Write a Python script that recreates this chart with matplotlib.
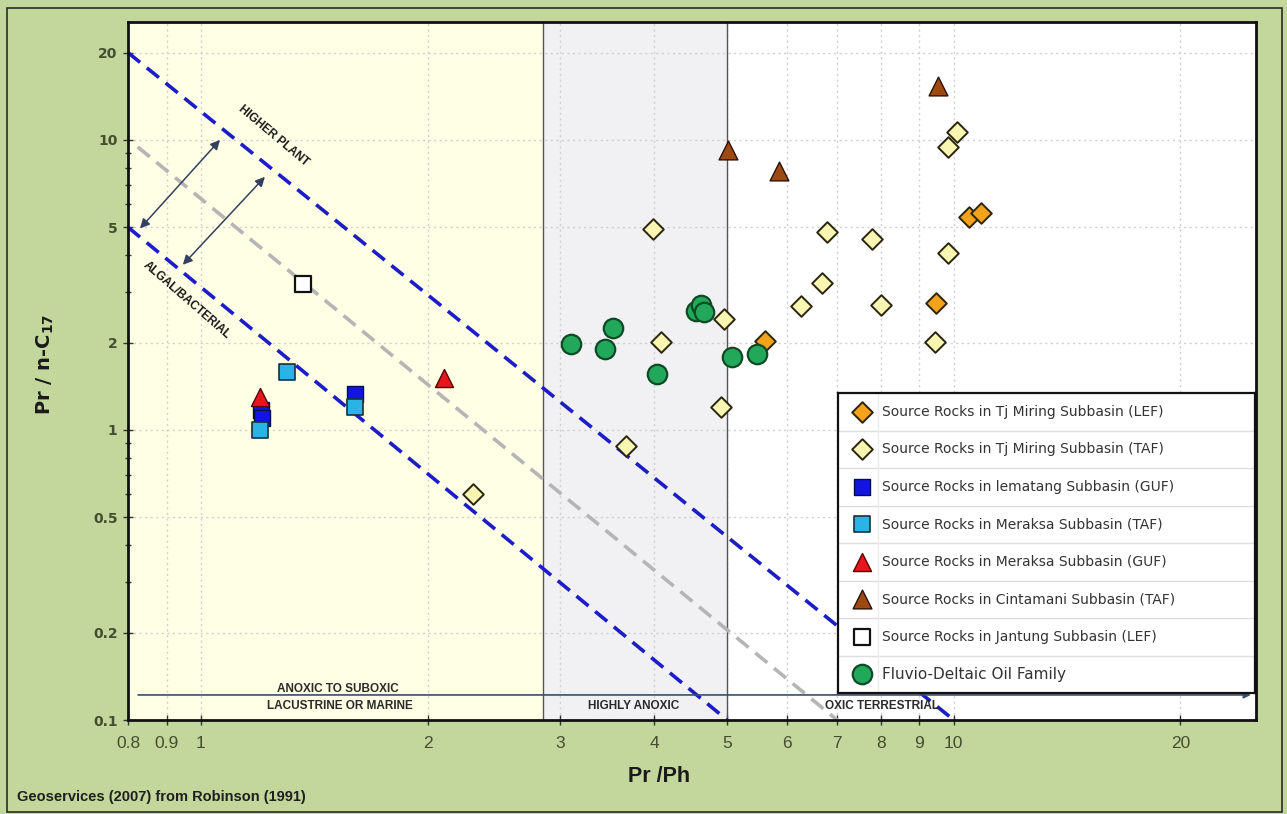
import matplotlib
matplotlib.use("Agg")
import matplotlib.pyplot as plt
from matplotlib.ticker import FixedLocator, FixedFormatter, NullFormatter

# ---- data -------------------------------------------------------------
tjm_lef_x = [10.47, 10.86, 9.46, 5.62]
tjm_lef_y = [5.43, 5.60, 2.74, 2.03]

tjm_taf_x = [10.09, 9.82, 3.99, 6.78, 7.78, 9.82, 6.68, 6.26, 8.00, 4.95,
             4.09, 9.44, 4.90, 3.67, 2.30]
tjm_taf_y = [10.66, 9.46, 4.93, 4.82, 4.56, 4.08, 3.21, 2.68, 2.70, 2.41,
             2.01, 2.01, 1.20, 0.88, 0.60]

lem_guf_x = [1.20, 1.205, 1.60]
lem_guf_y = [1.17, 1.10, 1.33]

mer_taf_x = [1.30, 1.198, 1.60]
mer_taf_y = [1.585, 1.00, 1.20]

mer_guf_x = [1.198, 2.10]
mer_guf_y = [1.30, 1.51]

cin_taf_x = [9.52, 5.02, 5.85]
cin_taf_y = [15.35, 9.24, 7.82]

jan_lef_x = [1.366]
jan_lef_y = [3.19]

oil_x = [3.10, 3.44, 3.53, 4.03, 4.54, 4.61, 4.66, 5.08, 5.47]
oil_y = [1.98, 1.90, 2.25, 1.56, 2.57, 2.70, 2.55, 1.79, 1.83]

labels = [
    "Source Rocks in Tj Miring Subbasin (LEF)",
    "Source Rocks in Tj Miring Subbasin (TAF)",
    "Source Rocks in lematang Subbasin (GUF)",
    "Source Rocks in Meraksa Subbasin (TAF)",
    "Source Rocks in Meraksa Subbasin (GUF)",
    "Source Rocks in Cintamani Subbasin (TAF)",
    "Source Rocks in Jantung Subbasin (LEF)",
    "Fluvio-Deltaic Oil Family",
]

# environment boundaries on Pr/Ph
zone_edges = [0.8, 2.85, 5.0, 25.0]

# classification lines
higher_plant_x = [0.8, 10.0]
higher_plant_y = [20.0, 0.1]
algal_x = [0.8, 5.0]
algal_y = [5.0, 0.1]
mid_x = [0.824, 7.0]
mid_y = [9.46, 0.1]

x_ticks = [0.8, 0.9, 1, 2, 3, 4, 5, 6, 7, 8, 9, 10, 20]
x_tick_labels = ["0.8", "0.9", "1", "2", "3", "4", "5", "6", "7", "8", "9", "10", "20"]
y_ticks = [0.1, 0.2, 0.5, 1, 2, 5, 10, 20]
y_tick_labels = ["0.1", "0.2", "0.5", "1", "2", "5", "10", "20"]

# ---- styles -----------------------------------------------------------
series = [
    (tjm_lef_x, tjm_lef_y, dict(marker="D", s=10.5**2, c="#f5a21b", edgecolors="#2a2410", linewidths=1.4)),
    (tjm_taf_x, tjm_taf_y, dict(marker="D", s=10.5**2, c="#f8f6b0", edgecolors="#2a2410", linewidths=1.4)),
    (lem_guf_x, lem_guf_y, dict(marker="s", s=12**2, c="#1414e0", edgecolors="#00104a", linewidths=1.0)),
    (mer_taf_x, mer_taf_y, dict(marker="s", s=12**2, c="#2ab4e6", edgecolors="#163040", linewidths=1.2)),
    (mer_guf_x, mer_guf_y, dict(marker="^", s=13**2, c="#e8161c", edgecolors="#5a0000", linewidths=1.0)),
    (cin_taf_x, cin_taf_y, dict(marker="^", s=13.5**2, c="#9c4a12", edgecolors="#2a1204", linewidths=1.0)),
    (jan_lef_x, jan_lef_y, dict(marker="s", s=12**2, c="#ffffff", edgecolors="#111111", linewidths=1.6)),
    (oil_x, oil_y, dict(marker="o", s=14**2, c="#22a85a", edgecolors="#0f4a25", linewidths=1.6)),
]

narrow = ["Liberation Sans", "DejaVu Sans"]
tick_color = "#43502e"

W, H = 1287, 814
fig = plt.figure(figsize=(W / 100, H / 100), dpi=100, facecolor="#c3d69b")

# outer frame
fig.add_artist(plt.Rectangle((7 / W, 2 / H), (1282 - 7) / W, (806 - 2) / H,
                             transform=fig.transFigure, fill=False,
                             edgecolor="#2b2b2b", lw=1.2))

ax = fig.add_axes([128 / W, 1 - 720 / H, (1256 - 128) / W, (720 - 22) / H])
ax.set_xscale("log")
ax.set_yscale("log")
ax.set_xlim(0.8, 25.2)
ax.set_ylim(0.1, 25.5)
ax.set_axisbelow(True)

# environment shading
zone_colors = ["#ffffe6", "#f1f1f4", "#ffffff"]
for (x0, x1), col in zip(zip(zone_edges[:-1], zone_edges[1:]), zone_colors):
    ax.axvspan(x0, x1, color=col, zorder=0, lw=0)
for xb in zone_edges[1:3]:
    ax.axvline(xb, color="#555555", lw=1.0, zorder=1)

# ticks and grid
ax.xaxis.set_major_locator(FixedLocator(x_ticks))
ax.xaxis.set_major_formatter(FixedFormatter(x_tick_labels))
ax.xaxis.set_minor_locator(FixedLocator([]))
ax.yaxis.set_major_locator(FixedLocator(y_ticks))
ax.yaxis.set_major_formatter(FixedFormatter(y_tick_labels))
y_minor = [m * d for d in (0.1, 1, 10) for m in range(2, 10)
           if round(m * d, 3) not in y_ticks and m * d < 25]
ax.yaxis.set_minor_locator(FixedLocator(y_minor))
ax.yaxis.set_minor_formatter(NullFormatter())
ax.grid(True, which="major", color="#cfcfcf", lw=1.0, ls=(0, (1.5, 2.5)))
ax.tick_params(axis="both", which="major", direction="inout", length=7,
               width=1.0, color="#333333")
ax.tick_params(axis="y", which="minor", direction="inout", length=5,
               width=1.0, color="#333333")
ax.tick_params(axis="x", labelsize=12.5, labelcolor=tick_color, pad=8)
ax.tick_params(axis="y", labelsize=10, labelcolor=tick_color, pad=4)
for lab in ax.get_xticklabels():
    lab.set_family(narrow)
for lab in ax.get_yticklabels():
    lab.set_fontweight("bold")
for sp in ax.spines.values():
    sp.set_linewidth(2.0)
    sp.set_color("#111111")

# classification lines
dash = (0, (4.3, 2.4))
ax.plot(higher_plant_x, higher_plant_y, color="#1c1cc8", lw=2.6, ls=dash, zorder=2,
        clip_on=False)
ax.plot(algal_x, algal_y, color="#1c1cc8", lw=2.6, ls=dash, zorder=2, clip_on=False)
ax.plot(mid_x, mid_y, color="#b5b5b5", lw=2.6, ls=dash, zorder=2)

arrow_kw = dict(arrowstyle="<|-|>", color="#33405e", lw=1.1, mutation_scale=14,
                shrinkA=0, shrinkB=0)
ax.annotate("", xy=(1.06, 10.0), xytext=(0.83, 4.95), arrowprops=arrow_kw, zorder=3)
ax.annotate("", xy=(1.216, 7.46), xytext=(0.946, 3.71), arrowprops=arrow_kw, zorder=3)

ax.text(1.25, 10.3, "HIGHER PLANT", rotation=-40, ha="center", va="center",
        fontsize=8.5, fontweight="bold", family=narrow, color="#1a1a1a", zorder=3)
ax.text(0.958, 2.81, "ALGAL/BACTERIAL", rotation=-41, ha="center", va="center",
        fontsize=8.5, fontweight="bold", family=narrow, color="#1a1a1a", zorder=3)

# environment axis along the bottom
ax.annotate("", xy=(24.8, 0.122), xytext=(0.825, 0.122),
            arrowprops=dict(arrowstyle="-|>", color="#34506e", lw=1.2,
                            mutation_scale=10, shrinkA=0, shrinkB=0), zorder=3)
zone_text = dict(ha="center", va="center", fontsize=8.5, fontweight="bold",
                 family=narrow, color="#2a2a2a", zorder=3)
ax.text(1.52, 0.128, "ANOXIC TO SUBOXIC", **zone_text)
ax.text(1.53, 0.1117, "LACUSTRINE OR MARINE", **zone_text)
ax.text(3.76, 0.1117, "HIGHLY ANOXIC", **zone_text)
ax.text(8.02, 0.1117, "OXIC TERRESTRIAL", **zone_text)

# samples
for xs, ys, kw in series:
    ax.scatter(xs, ys, zorder=4, **kw)

# legend box
lx0, lx1, ly0, ly1 = 838, 1255, 393, 693
lax = fig.add_axes([lx0 / W, 1 - ly1 / H, (lx1 - lx0) / W, (ly1 - ly0) / H])
lax.set_xlim(0, 1)
lax.set_ylim(len(labels), 0)
lax.set_xticks([])
lax.set_yticks([])
lax.set_facecolor("white")
for sp in lax.spines.values():
    sp.set_linewidth(1.6)
    sp.set_color("#111111")
for i in range(1, len(labels)):
    lax.axhline(i, color="#dedede", lw=1.0)
lax.axvline(0.096, color="#ececec", lw=1.0)
for i, ((_, _, kw), lab) in enumerate(zip(series, labels)):
    lax.scatter([0.0576], [i + 0.5], **kw)
    lax.text(0.1055, i + 0.5, lab, ha="left", va="center",
             fontsize=11 if i == len(labels) - 1 else 10, color="#333333")

# axis titles and source note
fig.text(45 / W, 1 - 365 / H, r"Pr / n-C$_\mathbf{17}$", rotation=90,
         ha="center", va="center", fontsize=14, fontweight="bold", color="#1a1a1a")
fig.text(659 / W, 1 - 776 / H, "Pr /Ph", ha="center", va="center",
         fontsize=15.5, fontweight="bold", family=narrow, color="#1a1a1a")
fig.text(17 / W, 1 - 797 / H, "Geoservices (2007) from Robinson (1991)",
         ha="left", va="center", fontsize=10.5, fontweight="bold", family=narrow,
         color="#1f1f1f")

fig.savefig("out.png", dpi=100, facecolor=fig.get_facecolor())
